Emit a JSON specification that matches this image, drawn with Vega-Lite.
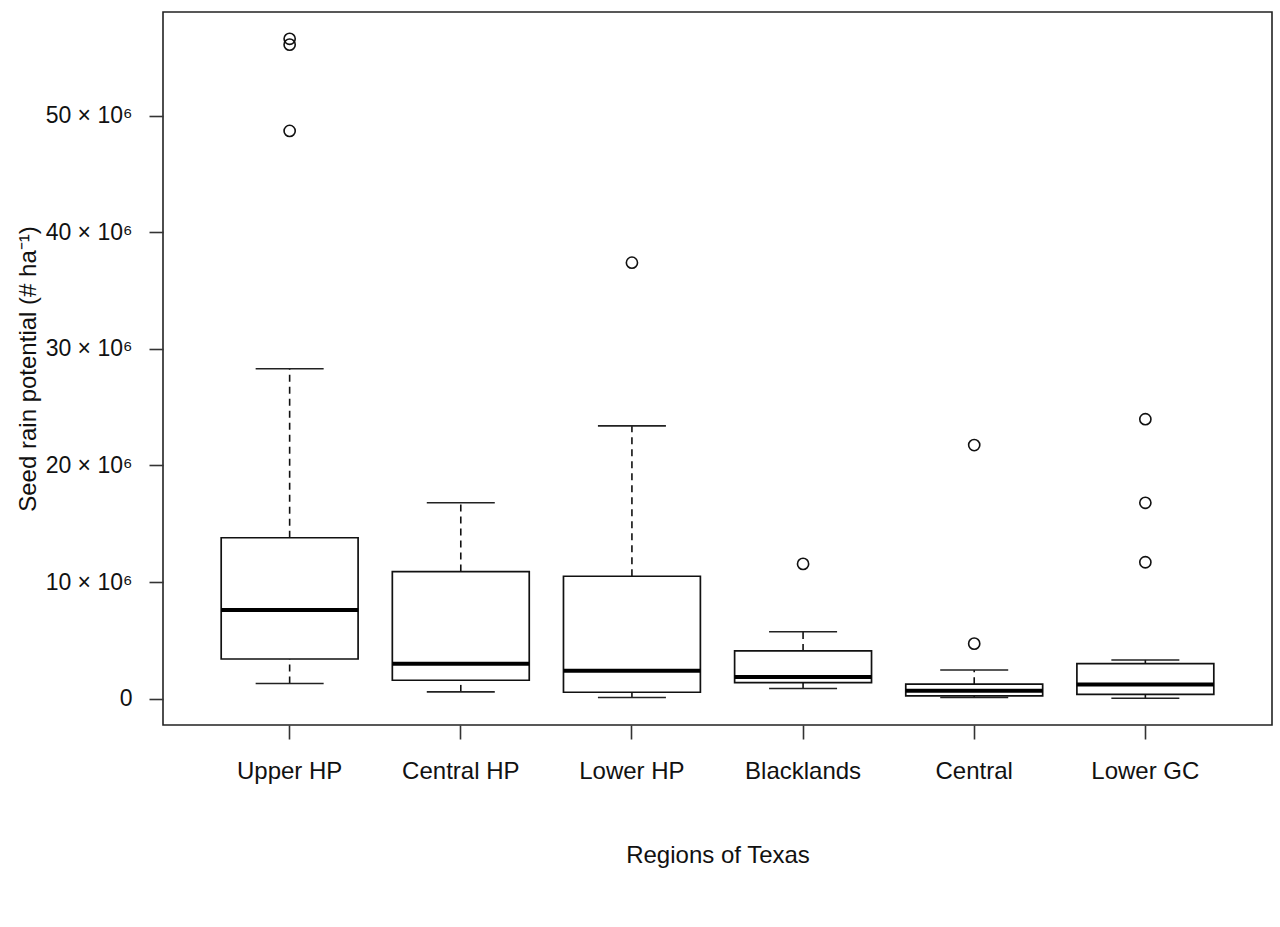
{
  "$schema": "https://vega.github.io/schema/vega-lite/v6.json",
  "width": 1109,
  "height": 713,
  "autosize": {"type": "none"},
  "padding": {"left": 163, "top": 12, "right": 8, "bottom": 202},
  "background": "white",
  "config": {
    "font": "Liberation Sans",
    "view": {"stroke": "#222", "strokeWidth": 1.6},
    "axis": {
      "grid": false,
      "domain": false,
      "tickColor": "#333",
      "tickWidth": 1.6,
      "tickSize": 14,
      "labelColor": "#111",
      "titleColor": "#111",
      "titleFontWeight": "normal",
      "labelFont": "Liberation Sans",
      "titleFont": "Liberation Sans"
    }
  },
  "datasets": {
    "boxes": [
      {"region": "Upper HP", "lower": 1.3, "q1": 3.4, "median": 7.6, "q3": 13.8, "upper": 28.3},
      {"region": "Central HP", "lower": 0.58, "q1": 1.58, "median": 3.0, "q3": 10.9, "upper": 16.8},
      {"region": "Lower HP", "lower": 0.1, "q1": 0.55, "median": 2.4, "q3": 10.5, "upper": 23.4},
      {"region": "Blacklands", "lower": 0.87, "q1": 1.38, "median": 1.86, "q3": 4.09, "upper": 5.74},
      {"region": "Central", "lower": 0.1, "q1": 0.24, "median": 0.67, "q3": 1.24, "upper": 2.46},
      {"region": "Lower GC", "lower": 0.04, "q1": 0.36, "median": 1.21, "q3": 3.0, "upper": 3.32}
    ],
    "outliers": [
      {"region": "Upper HP", "value": 56.6},
      {"region": "Upper HP", "value": 56.1},
      {"region": "Upper HP", "value": 48.7},
      {"region": "Lower HP", "value": 37.4},
      {"region": "Blacklands", "value": 11.56},
      {"region": "Central", "value": 21.75},
      {"region": "Central", "value": 4.72},
      {"region": "Lower GC", "value": 23.97},
      {"region": "Lower GC", "value": 16.8},
      {"region": "Lower GC", "value": 11.7}
    ]
  },
  "encoding": {
    "x": {
      "field": "region",
      "type": "nominal",
      "sort": ["Upper HP", "Central HP", "Lower HP", "Blacklands", "Central", "Lower GC"],
      "scale": {"type": "band", "paddingInner": 0.2, "paddingOuter": 0.34},
      "axis": {
        "title": "Regions of Texas",
        "labelAngle": 0,
        "labelFontSize": 24,
        "labelPadding": 20,
        "titleFontSize": 24,
        "titlePadding": 60
      }
    }
  },
  "layer": [
    {
      "data": {"name": "boxes"},
      "mark": {"type": "rule", "color": "#111", "strokeWidth": 1.6, "strokeDash": [7, 5]},
      "encoding": {
        "y": {
          "field": "lower",
          "type": "quantitative",
          "scale": {"domain": [-2.26, 58.9], "nice": false, "zero": false},
          "axis": {
            "title": "Seed rain potential (# ha⁻¹)",
            "values": [0, 10, 20, 30, 40, 50],
            "labelExpr": "datum.value == 0 ? '0' : datum.value + ' × 10⁶'",
            "labelFontSize": 23,
            "labelPadding": 17,
            "titleFontSize": 24,
            "titleBaseline": "alphabetic",
            "titleX": -128
          }
        },
        "y2": {"field": "q1"}
      }
    },
    {
      "data": {"name": "boxes"},
      "mark": {"type": "rule", "color": "#111", "strokeWidth": 1.6, "strokeDash": [7, 5]},
      "encoding": {
        "y": {"field": "q3", "type": "quantitative"},
        "y2": {"field": "upper"}
      }
    },
    {
      "data": {"name": "boxes"},
      "mark": {"type": "tick", "color": "#222", "opacity": 1, "size": 68, "thickness": 1.6},
      "encoding": {"y": {"field": "lower", "type": "quantitative"}}
    },
    {
      "data": {"name": "boxes"},
      "mark": {"type": "tick", "color": "#222", "opacity": 1, "size": 68, "thickness": 1.6},
      "encoding": {"y": {"field": "upper", "type": "quantitative"}}
    },
    {
      "data": {"name": "boxes"},
      "mark": {"type": "bar", "fill": "white", "stroke": "#111", "strokeWidth": 1.7, "opacity": 1},
      "encoding": {
        "y": {"field": "q1", "type": "quantitative"},
        "y2": {"field": "q3"}
      }
    },
    {
      "data": {"name": "boxes"},
      "mark": {"type": "tick", "color": "black", "opacity": 1, "size": 137, "thickness": 4},
      "encoding": {"y": {"field": "median", "type": "quantitative"}}
    },
    {
      "data": {"name": "outliers"},
      "mark": {"type": "point", "shape": "circle", "filled": false, "color": "#111", "size": 125, "strokeWidth": 1.6, "opacity": 1},
      "encoding": {"y": {"field": "value", "type": "quantitative"}}
    }
  ]
}
